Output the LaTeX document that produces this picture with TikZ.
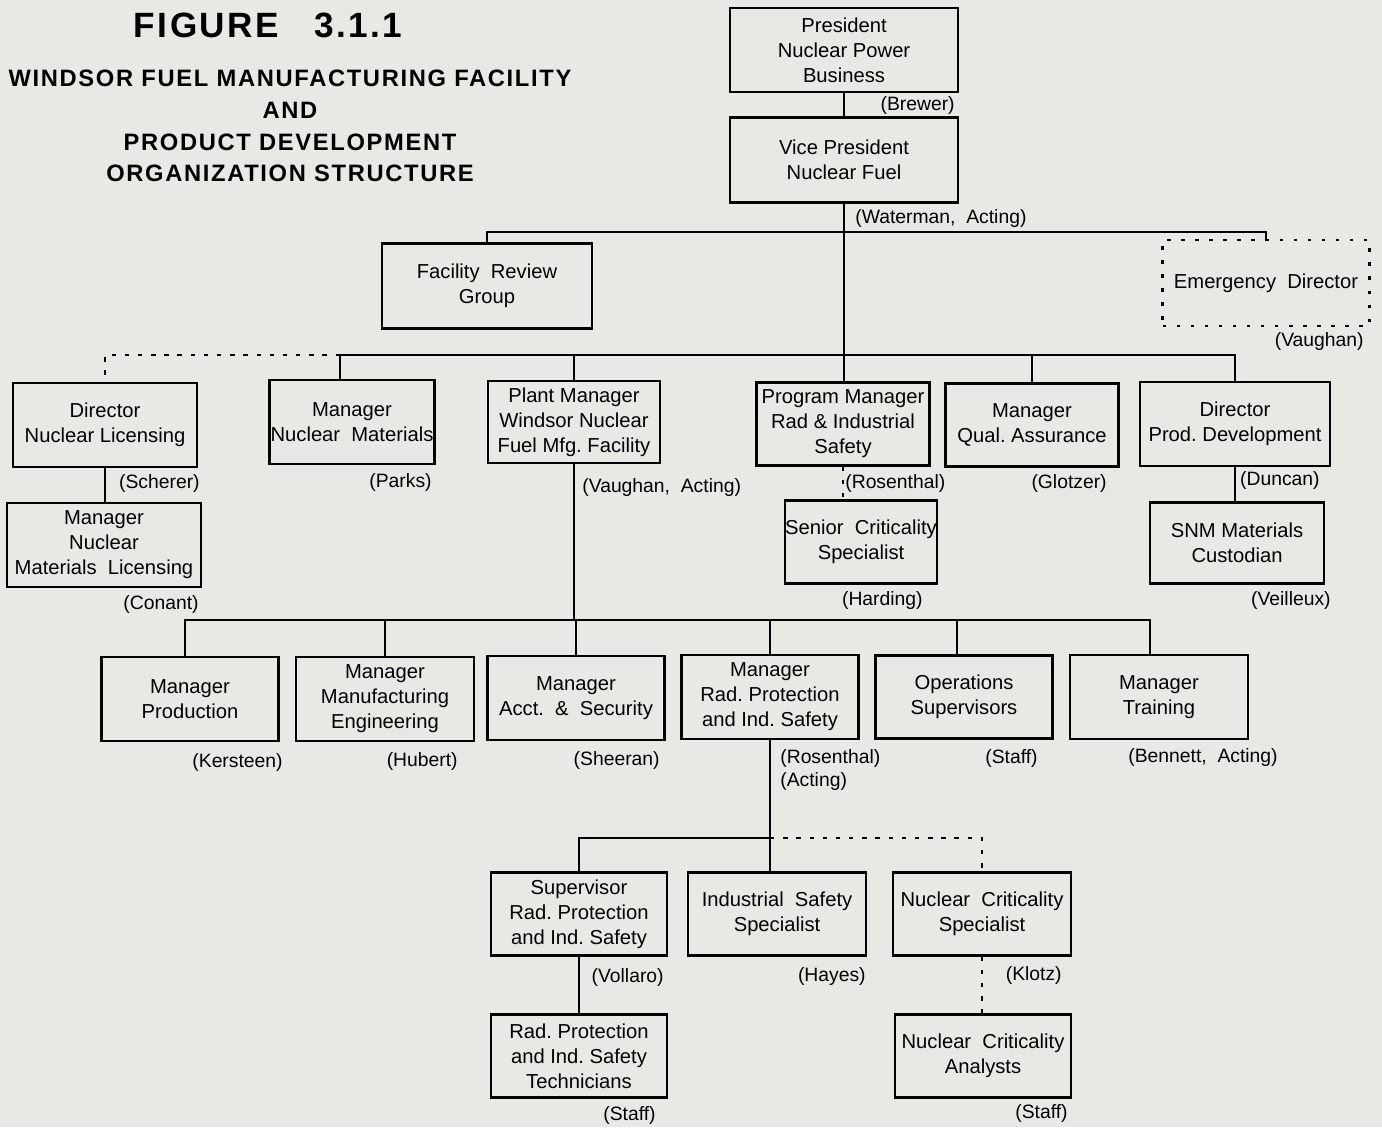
\documentclass[tikz,border=0pt]{standalone}
\usepackage{fontspec}
\setmainfont{Liberation Sans}
\newfontfamily\titlefont{Liberation Sans}[LetterSpace=7]
\newcommand{\boxfont}{\fontsize{11.5}{14.2}\selectfont}
\newcommand{\namefont}{\fontsize{11}{13}\selectfont}
\definecolor{paper}{RGB}{232,232,229}
\tikzset{
	orgbox/.style 2 args={draw, line width=1.4pt, align=center, inner sep=0pt,
		minimum width=#1*0.02cm, minimum height=#2*0.02cm, font=\boxfont},
	dotbox/.style={line width=1.6pt, dash pattern=on 2pt off 6pt},
	link/.style={line width=1.1pt},
	dotlink/.style={line width=1.6pt, dash pattern=on 2.5pt off 5pt},
	lbl/.style={inner sep=0pt, font=\namefont}
}

\begin{document}
\begin{tikzpicture}[x=0.02cm, y=-0.02cm, line join=miter]
% paper
\fill[paper] (0,0) rectangle (1382,1127);

%========================
% Title
%========================
\node[font=\titlefont\bfseries\fontsize{20}{24}\selectfont] (fig) at (268,25) {FIGURE\quad 3.1.1};
\node[font=\titlefont\bfseries\fontsize{13.5}{18.1}\selectfont, align=center] (ttl) at (290,126)
	{WINDSOR FUEL MANUFACTURING FACILITY\\AND\\PRODUCT DEVELOPMENT\\ORGANIZATION STRUCTURE};

%========================
% Top of the chart
%========================
\node[orgbox={228}{84}] (pres) at (844,50) {President\\Nuclear Power\\Business};
\node[lbl, anchor=east] (lpres) at (955,105) {(Brewer)};
\node[orgbox={228}{85}] (vp) at (844,160) {Vice President\\Nuclear Fuel};
\node[lbl, anchor=west] (lvp) at (855,218) {(Waterman,\ \ Acting)};
\node[orgbox={210}{85}] (frg) at (487,286) {Facility\ \ Review\\Group};
\node[orgbox={207}{86}, dotbox] (ed) at (1266,283) {Emergency\ \ Director};
\node[lbl, anchor=east] (led) at (1364,341) {(Vaughan)};

\coordinate (b1) at (0,232);
\coordinate (b2) at (0,355);
\coordinate (b3) at (0,620);
\coordinate (b4) at (0,838);

%========================
% Second level
%========================
\node[orgbox={184}{84}] (dnl) at (105,425) {Director\\Nuclear Licensing};
\node[lbl, anchor=east] (ldnl) at (200,483) {(Scherer)};
\node[orgbox={165}{84}] (mnm) at (352,422) {Manager\\Nuclear\ \ Materials};
\node[lbl, anchor=east] (lmnm) at (432,482) {(Parks)};
\node[orgbox={172}{82}] (pm) at (574,422) {Plant Manager\\Windsor Nuclear\\Fuel Mfg.\ Facility};
\node[lbl, anchor=west] (lpm) at (582,487) {(Vaughan,\ \ Acting)};
\node[orgbox={173}{83}] (prog) at (843,424) {Program Manager\\Rad \& Industrial\\Safety};
\node[lbl, anchor=west] (lprog) at (845,483) {(Rosenthal)};
\node[orgbox={173}{83}] (qa) at (1032,425) {Manager\\Qual.\ Assurance};
\node[lbl, anchor=east] (lqa) at (1107,483) {(Glotzer)};
\node[orgbox={190}{84}] (dpd) at (1235,424) {Director\\Prod.\ Development};
\node[lbl, anchor=east] (ldpd) at (1320,480) {(Duncan)};

\node[orgbox={194}{84}] (mnml) at (104,545) {Manager\\Nuclear\\Materials\ \ Licensing};
\node[lbl, anchor=east] (lmnml) at (199,604) {(Conant)};
\node[orgbox={149}{83}] (scs) at (861,542) {Senior\ \ Criticality\\Specialist};
\node[lbl, anchor=east] (lscs) at (923,600) {(Harding)};
\node[orgbox={174}{81}] (snm) at (1237,543) {SNM Materials\\Custodian};
\node[lbl, anchor=east] (lsnm) at (1331,600) {(Veilleux)};

%========================
% Plant level
%========================
\node[orgbox={177}{84}] (mp) at (190,699) {Manager\\Production};
\node[lbl, anchor=east] (lmp) at (283,762) {(Kersteen)};
\node[orgbox={178}{84}] (mme) at (385,699) {Manager\\Manufacturing\\Engineering};
\node[lbl, anchor=east] (lmme) at (458,761) {(Hubert)};
\node[orgbox={177}{84}] (mas) at (576,698) {Manager\\Acct.\ \ \&\ \ Security};
\node[lbl, anchor=east] (lmas) at (660,760) {(Sheeran)};
\node[orgbox={177}{84}] (mrp) at (770,697) {Manager\\Rad.\ Protection\\and Ind.\ Safety};
\node[lbl, anchor=west, align=left] (lmrp) at (780,770) {(Rosenthal)\\(Acting)};
\node[orgbox={177}{83}] (ops) at (964,697) {Operations\\Supervisors};
\node[lbl, anchor=east] (lops) at (1038,758) {(Staff)};
\node[orgbox={178}{84}] (mt) at (1159,697) {Manager\\Training};
\node[lbl, anchor=west] (lmt) at (1128,757) {(Bennett,\ \ Acting)};

%========================
% Rad. protection group
%========================
\node[orgbox={176}{83}] (srp) at (579,914) {Supervisor\\Rad.\ Protection\\and Ind.\ Safety};
\node[lbl, anchor=east] (lsrp) at (664,977) {(Vollaro)};
\node[orgbox={178}{83}] (iss) at (777,914) {Industrial\ \ Safety\\Specialist};
\node[lbl, anchor=east] (liss) at (866,976) {(Hayes)};
\node[orgbox={178}{83}] (ncs) at (982,914) {Nuclear\ \ Criticality\\Specialist};
\node[lbl, anchor=east] (lncs) at (1062,975) {(Klotz)};
\node[orgbox={176}{83}] (tech) at (579,1056) {Rad.\ Protection\\and Ind.\ Safety\\Technicians};
\node[lbl, anchor=east] (ltech) at (656,1115) {(Staff)};
\node[orgbox={176}{83}] (nca) at (983,1056) {Nuclear\ \ Criticality\\Analysts};
\node[lbl, anchor=east] (lnca) at (1068,1113) {(Staff)};

%========================
% Connectors
%========================
\draw[link] (pres.south) -- (vp.north);
\draw[link] (vp.south) -- (vp.south |- prog.north);
\draw[link] (frg.north) -- (frg.north |- b1) -- (ed.north |- b1) -- (ed.north);
% second level bus
\draw[link] ([xshift=-0.24cm]mnm.north) -- ([xshift=-0.24cm]mnm.north |- b2)
	-- (dpd.north |- b2) -- (dpd.north);
\draw[link] (pm.north) -- (pm.north |- b2);
\draw[link] (qa.north) -- (qa.north |- b2);
\draw[dotlink] ([xshift=-0.24cm]mnm.north |- b2) -- (dnl.north |- b2) -- (dnl.north);
\draw[link] (dnl.south) -- (dnl.south |- mnml.north);
\draw[dotlink] (prog.south) -- (prog.south |- scs.north);
\draw[link] (dpd.south) -- (dpd.south |- snm.north);
% plant bus
\draw[link] (pm.south) -- (pm.south |- b3);
\draw[link] ([xshift=-0.1cm]mp.north) -- ([xshift=-0.1cm]mp.north |- b3)
	-- ([xshift=-0.18cm]mt.north |- b3) -- ([xshift=-0.18cm]mt.north);
\draw[link] ([xshift=-0.14cm]ops.north) -- ([xshift=-0.14cm]ops.north |- b3);
\foreach \n in {mme,mas,mrp}
	\draw[link] (\n.north) -- (\n.north |- b3);
% rad. protection bus
\draw[link] (mrp.south) -- (mrp.south |- b4);
\draw[link] (srp.north) -- (srp.north |- b4) -- (mrp.south |- b4) -- (mrp.south |- iss.north);
\draw[dotlink] (mrp.south |- b4) -- (ncs.north |- b4) -- (ncs.north);
\draw[link] (srp.south) -- (tech.north);
\draw[dotlink] (ncs.south) -- (ncs.south |- nca.north);
\end{tikzpicture}
\end{document}
